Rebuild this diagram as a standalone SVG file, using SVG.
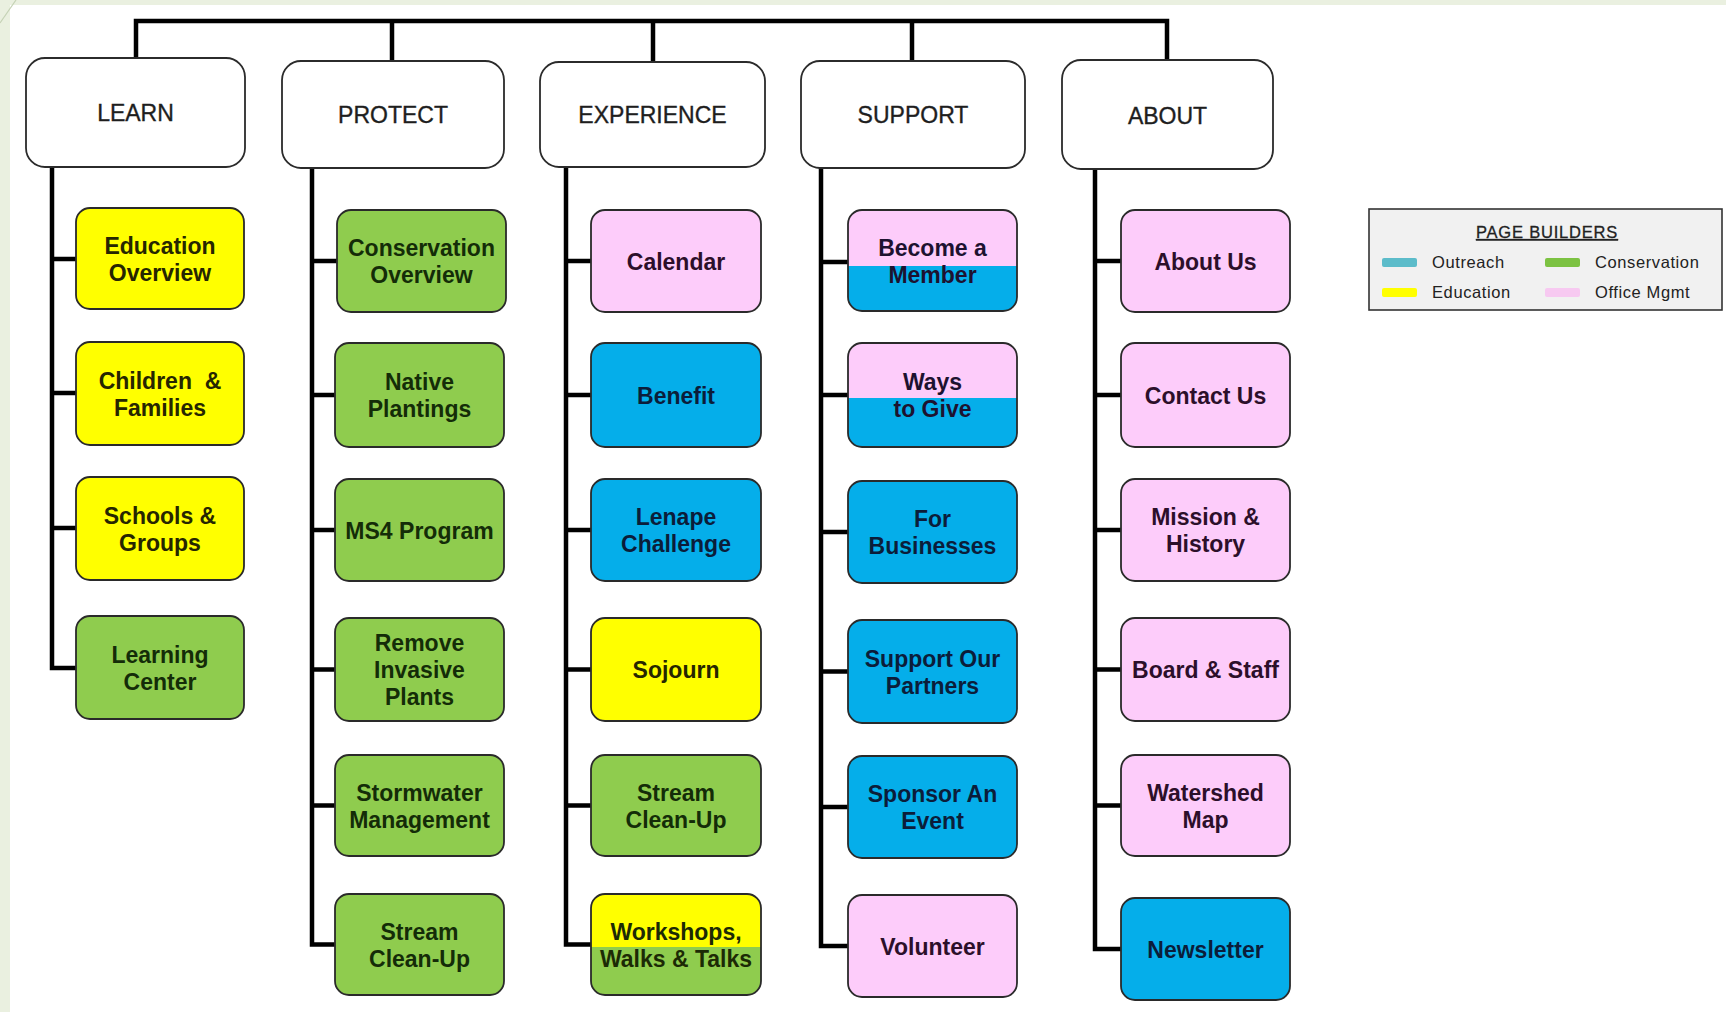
<svg xmlns="http://www.w3.org/2000/svg" width="1726" height="1012" viewBox="0 0 1726 1012">
  <defs>
    <style>
      .hdr rect{fill:#fff;stroke:#2b2b2b;stroke-width:1.8}
      .hdr text{font-family:"Liberation Sans",Arial,sans-serif;font-size:23px;fill:#1e1e1e;stroke:#1e1e1e;stroke-width:0.35;text-anchor:middle}
      .node rect{stroke:#2a2a2a;stroke-width:1.8}
      .node text{font-family:"Liberation Sans",Arial,sans-serif;font-weight:bold;font-size:23px;text-anchor:middle}
      .y rect{fill:#ffff00}.y text{fill:#262600}
      .g rect{fill:#8fcc4e}.g text{fill:#142c08}
      .b rect{fill:#05aeea}.b text{fill:#0b1d3a}
      .p rect{fill:#fdccfa}.p text{fill:#2c0f2a}
      .pb rect{fill:url(#pinkBlue1)}.pb text{fill:#1d1230}
      .pb2 rect{fill:url(#pinkBlue2)}.pb2 text{fill:#1d1230}
      .yg rect{fill:url(#yellowGreen)}.yg text{fill:#1c2a05}
      .conn path{fill:none;stroke:#000;stroke-width:4.5;stroke-linejoin:miter;stroke-linecap:butt}
      .legend text{font-family:"Liberation Sans",Arial,sans-serif;font-size:16.5px;fill:#222;letter-spacing:0.6px}
    </style>
    <linearGradient id="pinkBlue1" x1="0" y1="0" x2="0" y2="1">
      <stop offset="0.55" stop-color="#fdccfa"/>
      <stop offset="0.55" stop-color="#05aeea"/>
    </linearGradient>
    <linearGradient id="pinkBlue2" x1="0" y1="0" x2="0" y2="1">
      <stop offset="0.53" stop-color="#fdccfa"/>
      <stop offset="0.53" stop-color="#05aeea"/>
    </linearGradient>
    <linearGradient id="yellowGreen" x1="0" y1="0" x2="0" y2="1">
      <stop offset="0.525" stop-color="#ffff00"/>
      <stop offset="0.525" stop-color="#8fcc4e"/>
    </linearGradient>
  </defs>

  <!-- page backdrop -->
  <rect x="0" y="0" width="1726" height="1012" fill="#eaf0e0"/>
  <rect x="10" y="5" width="1716" height="1007" fill="#ffffff"/>
  <line x1="0" y1="23" x2="16" y2="0" stroke="#c5d2b5" stroke-width="1.2"/>

  <!-- connectors -->
  <g id="connectors" class="conn">
    <path d="M136 59 V21 H1167 V61"/>
    <path d="M392 21 V61"/>
    <path d="M653 21 V62"/>
    <path d="M912 21 V61"/>
    <!-- LEARN branch -->
    <path d="M52 167 V668 H76"/>
    <path d="M52 259 H76 M52 393 H76 M52 528 H76"/>
    <!-- PROTECT branch -->
    <path d="M312 168 V944.5 H335"/>
    <path d="M312 261 H337 M312 395 H335 M312 530 H335 M312 669.5 H335 M312 805.5 H335"/>
    <!-- EXPERIENCE branch -->
    <path d="M566 167 V944.5 H591"/>
    <path d="M566 261 H591 M566 395 H591 M566 530 H591 M566 669.5 H591 M566 805.5 H591"/>
    <!-- SUPPORT branch -->
    <path d="M821 168 V946 H848"/>
    <path d="M821 262 H848 M821 395 H848 M821 532 H848 M821 671.5 H848 M821 807 H848"/>
    <!-- ABOUT branch -->
    <path d="M1095 169 V949 H1121"/>
    <path d="M1095 261 H1121 M1095 395 H1121 M1095 530 H1121 M1095 669.5 H1121 M1095 805.5 H1121"/>
  </g>

  <!-- section headers -->
  <g id="hdr-learn" class="hdr"><rect x="26" y="58" width="219" height="109" rx="19"/><text x="135.5" y="121">LEARN</text></g>
  <g id="hdr-protect" class="hdr"><rect x="282" y="61" width="222" height="107" rx="19"/><text x="393" y="123">PROTECT</text></g>
  <g id="hdr-experience" class="hdr"><rect x="540" y="62" width="225" height="105" rx="19"/><text x="652.5" y="123">EXPERIENCE</text></g>
  <g id="hdr-support" class="hdr"><rect x="801" y="61" width="224" height="107" rx="19"/><text x="913" y="123">SUPPORT</text></g>
  <g id="hdr-about" class="hdr"><rect x="1062" y="60" width="211" height="109" rx="19"/><text x="1167.5" y="124">ABOUT</text></g>

  <!-- LEARN pages -->
  <g id="n-education-overview" class="node y"><rect x="76" y="208" width="168" height="101" rx="14"/><text x="160" y="253.5">Education</text><text x="160" y="280.5">Overview</text></g>
  <g id="n-children-families" class="node y"><rect x="76" y="342" width="168" height="103" rx="14"/><text x="160" y="388.5" xml:space="preserve">Children  &amp;</text><text x="160" y="415.5">Families</text></g>
  <g id="n-schools-groups" class="node y"><rect x="76" y="477" width="168" height="103" rx="14"/><text x="160" y="523.5">Schools &amp;</text><text x="160" y="550.5">Groups</text></g>
  <g id="n-learning-center" class="node g"><rect x="76" y="616" width="168" height="103" rx="14"/><text x="160" y="663">Learning</text><text x="160" y="690">Center</text></g>

  <!-- PROTECT pages -->
  <g id="n-conservation-overview" class="node g"><rect x="337" y="210" width="169" height="102" rx="14"/><text x="421.5" y="256">Conservation</text><text x="421.5" y="283">Overview</text></g>
  <g id="n-native-plantings" class="node g"><rect x="335" y="343" width="169" height="104" rx="14"/><text x="419.5" y="390">Native</text><text x="419.5" y="417">Plantings</text></g>
  <g id="n-ms4-program" class="node g"><rect x="335" y="479" width="169" height="102" rx="14"/><text x="419.5" y="538.5">MS4 Program</text></g>
  <g id="n-remove-invasive" class="node g"><rect x="335" y="618" width="169" height="103" rx="14"/><text x="419.5" y="651">Remove</text><text x="419.5" y="678">Invasive</text><text x="419.5" y="705">Plants</text></g>
  <g id="n-stormwater" class="node g"><rect x="335" y="755" width="169" height="101" rx="14"/><text x="419.5" y="800.5">Stormwater</text><text x="419.5" y="827.5">Management</text></g>
  <g id="n-stream-cleanup-p" class="node g"><rect x="335" y="894" width="169" height="101" rx="14"/><text x="419.5" y="939.5">Stream</text><text x="419.5" y="966.5">Clean-Up</text></g>

  <!-- EXPERIENCE pages -->
  <g id="n-calendar" class="node p"><rect x="591" y="210" width="170" height="102" rx="14"/><text x="676" y="269.5">Calendar</text></g>
  <g id="n-benefit" class="node b"><rect x="591" y="343" width="170" height="104" rx="14"/><text x="676" y="403.5">Benefit</text></g>
  <g id="n-lenape" class="node b"><rect x="591" y="479" width="170" height="102" rx="14"/><text x="676" y="525">Lenape</text><text x="676" y="552">Challenge</text></g>
  <g id="n-sojourn" class="node y"><rect x="591" y="618" width="170" height="103" rx="14"/><text x="676" y="678">Sojourn</text></g>
  <g id="n-stream-cleanup-e" class="node g"><rect x="591" y="755" width="170" height="101" rx="14"/><text x="676" y="800.5">Stream</text><text x="676" y="827.5">Clean-Up</text></g>
  <g id="n-workshops" class="node yg"><rect x="591" y="894" width="170" height="101" rx="14"/><text x="676" y="939.5">Workshops,</text><text x="676" y="966.5">Walks &amp; Talks</text></g>

  <!-- SUPPORT pages -->
  <g id="n-member" class="node pb"><rect x="848" y="210" width="169" height="101" rx="14"/><text x="932.5" y="255.5">Become a</text><text x="932.5" y="282.5">Member</text></g>
  <g id="n-ways-to-give" class="node pb2"><rect x="848" y="343" width="169" height="104" rx="14"/><text x="932.5" y="390">Ways</text><text x="932.5" y="417">to Give</text></g>
  <g id="n-businesses" class="node b"><rect x="848" y="481" width="169" height="102" rx="14"/><text x="932.5" y="527">For</text><text x="932.5" y="554">Businesses</text></g>
  <g id="n-partners" class="node b"><rect x="848" y="620" width="169" height="103" rx="14"/><text x="932.5" y="666.5">Support Our</text><text x="932.5" y="693.5">Partners</text></g>
  <g id="n-sponsor" class="node b"><rect x="848" y="756" width="169" height="102" rx="14"/><text x="932.5" y="802">Sponsor An</text><text x="932.5" y="829">Event</text></g>
  <g id="n-volunteer" class="node p"><rect x="848" y="895" width="169" height="102" rx="14"/><text x="932.5" y="954.5">Volunteer</text></g>

  <!-- ABOUT pages -->
  <g id="n-about-us" class="node p"><rect x="1121" y="210" width="169" height="102" rx="14"/><text x="1205.5" y="269.5">About Us</text></g>
  <g id="n-contact-us" class="node p"><rect x="1121" y="343" width="169" height="104" rx="14"/><text x="1205.5" y="403.5">Contact Us</text></g>
  <g id="n-mission" class="node p"><rect x="1121" y="479" width="169" height="102" rx="14"/><text x="1205.5" y="525">Mission &amp;</text><text x="1205.5" y="552">History</text></g>
  <g id="n-board-staff" class="node p"><rect x="1121" y="618" width="169" height="103" rx="14"/><text x="1205.5" y="678">Board &amp; Staff</text></g>
  <g id="n-watershed" class="node p"><rect x="1121" y="755" width="169" height="101" rx="14"/><text x="1205.5" y="800.5">Watershed</text><text x="1205.5" y="827.5">Map</text></g>
  <g id="n-newsletter" class="node b"><rect x="1121" y="898" width="169" height="102" rx="14"/><text x="1205.5" y="957.5">Newsletter</text></g>

  <!-- colour key -->
  <g id="legend" class="legend">
    <rect x="1369" y="209" width="353" height="101" fill="#f1f1f1" stroke="#333" stroke-width="1.6"/>
    <text x="1547" y="238" text-anchor="middle" text-decoration="underline" style="letter-spacing:0.8px;stroke:#222;stroke-width:0.3">PAGE BUILDERS</text>
    <rect x="1382" y="258" width="35" height="9" rx="2" fill="#5cbcca"/>
    <text x="1432" y="268">Outreach</text>
    <rect x="1545" y="258" width="35" height="9" rx="2" fill="#7cc242"/>
    <text x="1595" y="268">Conservation</text>
    <rect x="1382" y="288" width="35" height="9" rx="2" fill="#ffff00"/>
    <text x="1432" y="298">Education</text>
    <rect x="1545" y="288" width="35" height="9" rx="2" fill="#f7c9f1"/>
    <text x="1595" y="298">Office Mgmt</text>
  </g>
</svg>
